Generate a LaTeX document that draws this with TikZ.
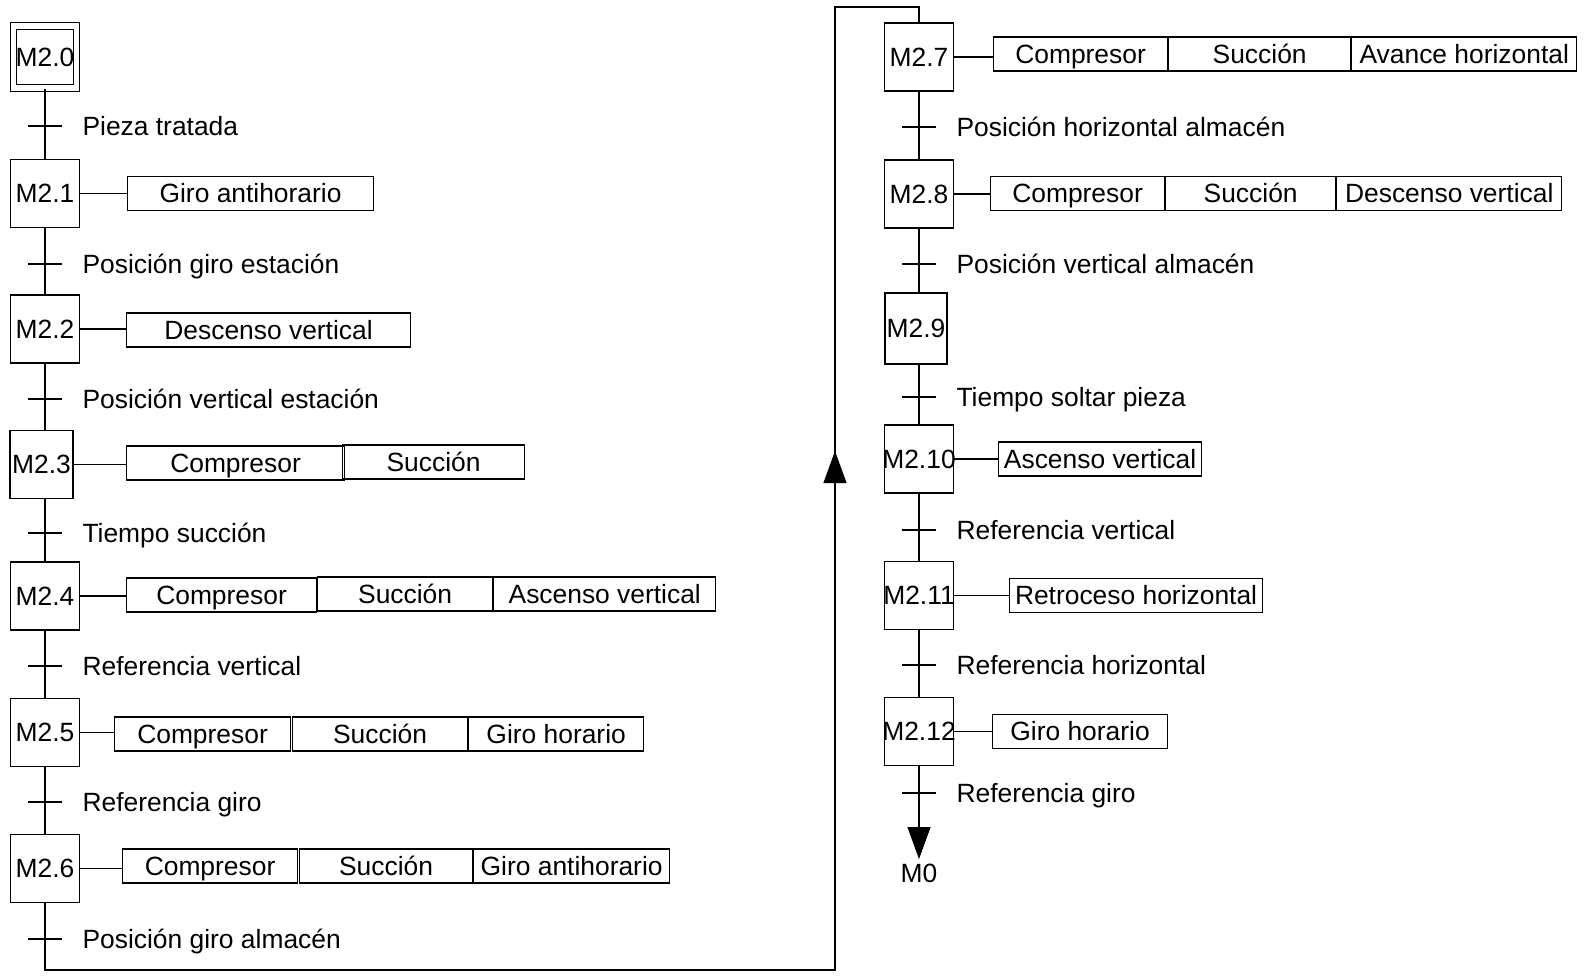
\documentclass[tikz,border=0pt]{standalone}
\usepackage{fontspec}
\setmainfont{Liberation Sans}
\usetikzlibrary{arrows.meta}

\begin{document}
\begin{tikzpicture}[x=1pt, y=-1pt, line width=1.1pt,
  every node/.style={font=\fontsize{26.4}{30}\selectfont, inner sep=0pt, text height=18.8pt, text depth=0pt},
  stepbox/.style={draw, minimum width=69, minimum height=68},
  initstep/.style={draw, double, double distance=5.5pt, minimum width=63, minimum height=62},
  actbox/.style={draw, minimum height=34, anchor=west},
  cond/.style={anchor=west},
  bigtip/.style={-{Triangle[width=23pt,length=32pt]}}
]
\useasboundingbox (0,0) rectangle (1585,977);

% left column
\node [initstep] (s20) at (45,57) {M2.0};
\node [stepbox] (s21) at (45,193.5) {M2.1};
\node [stepbox] (s22) at (45,329) {M2.2};
\node [stepbox, minimum width=63] (s23) at (41.5,464.5) {M2.3};
\node [stepbox] (s24) at (45,596) {M2.4};
\node [stepbox] (s25) at (45,732.5) {M2.5};
\node [stepbox] (s26) at (45,868.5) {M2.6};

\draw (s20) -- (s21);
\draw (s21) -- (s22);
\draw (s22.south) -- (s22.south |- s23.north);
\draw (s22.south |- s23.south) -- (s24);
\draw (s24) -- (s25);
\draw (s25) -- (s26);

\coordinate (t1) at (45,126);
\coordinate (t2) at (45,264);
\coordinate (t3) at (45,399);
\coordinate (t4) at (45,533);
\coordinate (t5) at (45,666);
\coordinate (t6) at (45,802);
\coordinate (t7) at (45,939);
\draw (t1) +(-17,0) -- +(17,0);
\draw (t2) +(-17,0) -- +(17,0);
\draw (t3) +(-17,0) -- +(17,0);
\draw (t4) +(-17,0) -- +(17,0);
\draw (t5) +(-17,0) -- +(17,0);
\draw (t6) +(-17,0) -- +(17,0);
\draw (t7) +(-17,0) -- +(17,0);
\node [cond] (c1) at (82,126) {Pieza tratada};
\node [cond] (c2) at (82,264) {Posición giro estación};
\node [cond] (c3) at (82,399) {Posición vertical estación};
\node [cond] (c4) at (82,533) {Tiempo succión};
\node [cond] (c5) at (82,666) {Referencia vertical};
\node [cond] (c6) at (82,802) {Referencia giro};
\node [cond] (c7) at (82,939) {Posición giro almacén};

% actions, left column
\node [actbox, minimum width=246] (a21) at (127,193.5) {Giro antihorario};
\node [actbox, minimum width=284] (a22) at (126,330) {Descenso vertical};
\node [actbox, minimum width=218] (a23a) at (126,463) {Compresor};
\node [actbox, minimum width=182] (a23b) at (342,462) {Succión};
\node [actbox, minimum width=190] (a24a) at (126,595) {Compresor};
\node [actbox, minimum width=175] (a24b) at (a24a.east |- 0,594) {Succión};
\node [actbox, minimum width=222] (a24c) at (a24b.east) {Ascenso vertical};
\node [actbox, minimum width=176] (a25a) at (114,734) {Compresor};
\node [actbox, minimum width=175] (a25b) at (292,734) {Succión};
\node [actbox, minimum width=175] (a25c) at (a25b.east) {Giro horario};
\node [actbox, minimum width=175] (a26a) at (122,866) {Compresor};
\node [actbox, minimum width=173] (a26b) at (299,866) {Succión};
\node [actbox, minimum width=196] (a26c) at (a26b.east) {Giro antihorario};

\draw (s21) -- (s21 -| a21.west);
\draw (s22) -- (s22 -| a22.west);
\draw (s23) -- (s23 -| a23a.west);
\draw (s24) -- (s24 -| a24a.west);
\draw (s25) -- (s25 -| a25a.west);
\draw (s26) -- (s26 -| a26a.west);

% right column (the long step names run past the box)
\node [stepbox] (s27) at (919,57) {M2.7};
\node [stepbox] (s28) at (919,194) {M2.8};
\node [stepbox, minimum width=62, minimum height=71] (s29) at (916,328.5) {M2.9};
\node [stepbox] (s210) at (919,459) {\clap{M2.10}};
\node [stepbox] (s211) at (919,595.5) {\clap{M2.11}};
\node [stepbox] (s212) at (919,731.5) {\clap{M2.12}};
\node (m0) at (919,873) {M0};

\draw (s27) -- (s28);
\draw (s28.south) -- (s28.south |- s29.north);
\draw (s28.south |- s29.south) -- (s210);
\draw (s210) -- (s211);
\draw (s211) -- (s212);
\draw [bigtip] (s212) -- ([yshift=4pt]m0.north);

\coordinate (t8) at (919,127);
\coordinate (t9) at (919,264);
\coordinate (t10) at (919,397);
\coordinate (t11) at (919,530);
\coordinate (t12) at (919,665);
\coordinate (t13) at (919,793);
\draw (t8) +(-17,0) -- +(17,0);
\draw (t9) +(-17,0) -- +(17,0);
\draw (t10) +(-17,0) -- +(17,0);
\draw (t11) +(-17,0) -- +(17,0);
\draw (t12) +(-17,0) -- +(17,0);
\draw (t13) +(-17,0) -- +(17,0);
\node [cond] (c8) at (956,127) {Posición horizontal almacén};
\node [cond] (c9) at (956,264) {Posición vertical almacén};
\node [cond] (c10) at (956,397) {Tiempo soltar pieza};
\node [cond] (c11) at (956,530) {Referencia vertical};
\node [cond] (c12) at (956,665) {Referencia horizontal};
\node [cond] (c13) at (956,793) {Referencia giro};

% actions, right column
\node [actbox, minimum width=174] (a27a) at (993,54) {Compresor};
\node [actbox, minimum width=182] (a27b) at (a27a.east) {Succión};
\node [actbox, minimum width=225] (a27c) at (a27b.east) {Avance horizontal};
\node [actbox, minimum width=174] (a28a) at (990,193.5) {Compresor};
\node [actbox, minimum width=170] (a28b) at (a28a.east) {Succión};
\node [actbox, minimum width=225] (a28c) at (a28b.east) {Descenso vertical};
\node [actbox, minimum width=203] (a210) at (998,459) {Ascenso vertical};
\node [actbox, minimum width=253] (a211) at (1009,595.5) {Retroceso horizontal};
\node [actbox, minimum width=175] (a212) at (992,731.5) {Giro horario};

\draw (s27) -- (s27 -| a27a.west);
\draw (s28) -- (s28 -| a28a.west);
\draw (s210) -- (s210 -| a210.west);
\draw (s211) -- (s211 -| a211.west);
\draw (s212) -- (s212 -| a212.west);

% jump from M2.6 to M2.7
\coordinate (lb) at (45,970);
\coordinate (rt) at (835,7);
\coordinate (up) at (835,451);
\draw (s26) |- (rt |- lb) -- (rt) -| (s27);
\draw [bigtip] (up |- 0,483) -- (up);
\end{tikzpicture}
\end{document}
